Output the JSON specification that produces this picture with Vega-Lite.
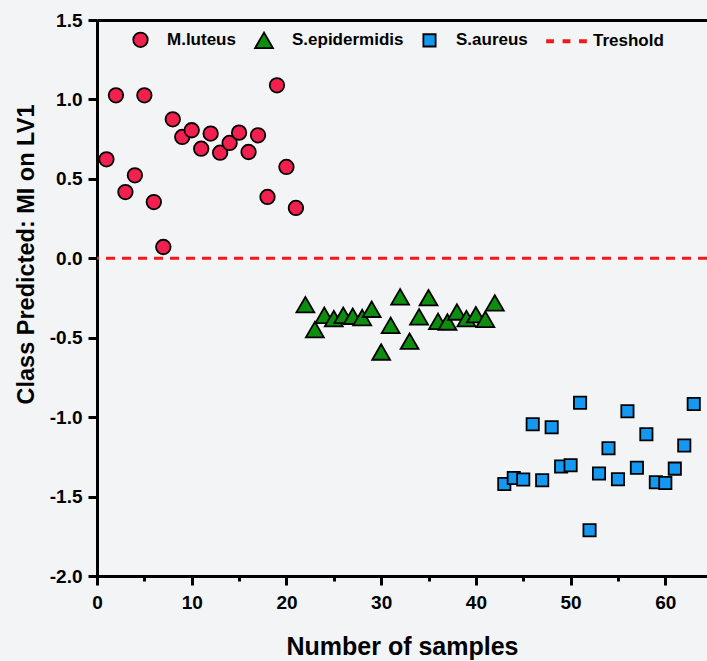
{
  "$schema": "https://vega.github.io/schema/vega-lite/v6.json",
  "width": 610,
  "height": 556,
  "autosize": "none",
  "padding": {"left": 97, "top": 20, "right": 0, "bottom": 85},
  "background": "#f3f4f6",
  "config": {"view": {"stroke": null}, "font": "Liberation Sans"},
  "layer": [
    {
      "data": {"values": [
        {"sample": 1, "value": 0.623, "class": "M.luteus"},
        {"sample": 2, "value": 1.026, "class": "M.luteus"},
        {"sample": 3, "value": 0.417, "class": "M.luteus"},
        {"sample": 4, "value": 0.522, "class": "M.luteus"},
        {"sample": 5, "value": 1.026, "class": "M.luteus"},
        {"sample": 6, "value": 0.354, "class": "M.luteus"},
        {"sample": 7, "value": 0.071, "class": "M.luteus"},
        {"sample": 8, "value": 0.875, "class": "M.luteus"},
        {"sample": 9, "value": 0.764, "class": "M.luteus"},
        {"sample": 10, "value": 0.806, "class": "M.luteus"},
        {"sample": 11, "value": 0.69, "class": "M.luteus"},
        {"sample": 12, "value": 0.785, "class": "M.luteus"},
        {"sample": 13, "value": 0.665, "class": "M.luteus"},
        {"sample": 14, "value": 0.726, "class": "M.luteus"},
        {"sample": 15, "value": 0.791, "class": "M.luteus"},
        {"sample": 16, "value": 0.669, "class": "M.luteus"},
        {"sample": 17, "value": 0.774, "class": "M.luteus"},
        {"sample": 18, "value": 0.386, "class": "M.luteus"},
        {"sample": 19, "value": 1.089, "class": "M.luteus"},
        {"sample": 20, "value": 0.575, "class": "M.luteus"},
        {"sample": 21, "value": 0.317, "class": "M.luteus"},
        {"sample": 22, "value": -0.292, "class": "S.epidermidis"},
        {"sample": 23, "value": -0.449, "class": "S.epidermidis"},
        {"sample": 24, "value": -0.359, "class": "S.epidermidis"},
        {"sample": 25, "value": -0.38, "class": "S.epidermidis"},
        {"sample": 26, "value": -0.359, "class": "S.epidermidis"},
        {"sample": 27, "value": -0.365, "class": "S.epidermidis"},
        {"sample": 28, "value": -0.373, "class": "S.epidermidis"},
        {"sample": 29, "value": -0.321, "class": "S.epidermidis"},
        {"sample": 30, "value": -0.59, "class": "S.epidermidis"},
        {"sample": 31, "value": -0.422, "class": "S.epidermidis"},
        {"sample": 32, "value": -0.243, "class": "S.epidermidis"},
        {"sample": 33, "value": -0.522, "class": "S.epidermidis"},
        {"sample": 34, "value": -0.369, "class": "S.epidermidis"},
        {"sample": 35, "value": -0.248, "class": "S.epidermidis"},
        {"sample": 36, "value": -0.397, "class": "S.epidermidis"},
        {"sample": 37, "value": -0.401, "class": "S.epidermidis"},
        {"sample": 38, "value": -0.338, "class": "S.epidermidis"},
        {"sample": 39, "value": -0.38, "class": "S.epidermidis"},
        {"sample": 40, "value": -0.355, "class": "S.epidermidis"},
        {"sample": 41, "value": -0.384, "class": "S.epidermidis"},
        {"sample": 42, "value": -0.281, "class": "S.epidermidis"},
        {"sample": 43, "value": -1.421, "class": "S.aureus"},
        {"sample": 44, "value": -1.383, "class": "S.aureus"},
        {"sample": 45, "value": -1.393, "class": "S.aureus"},
        {"sample": 46, "value": -1.045, "class": "S.aureus"},
        {"sample": 47, "value": -1.397, "class": "S.aureus"},
        {"sample": 48, "value": -1.064, "class": "S.aureus"},
        {"sample": 49, "value": -1.311, "class": "S.aureus"},
        {"sample": 50, "value": -1.303, "class": "S.aureus"},
        {"sample": 51, "value": -0.909, "class": "S.aureus"},
        {"sample": 52, "value": -1.712, "class": "S.aureus"},
        {"sample": 53, "value": -1.355, "class": "S.aureus"},
        {"sample": 54, "value": -1.196, "class": "S.aureus"},
        {"sample": 55, "value": -1.391, "class": "S.aureus"},
        {"sample": 56, "value": -0.963, "class": "S.aureus"},
        {"sample": 57, "value": -1.318, "class": "S.aureus"},
        {"sample": 58, "value": -1.108, "class": "S.aureus"},
        {"sample": 59, "value": -1.41, "class": "S.aureus"},
        {"sample": 60, "value": -1.414, "class": "S.aureus"},
        {"sample": 61, "value": -1.324, "class": "S.aureus"},
        {"sample": 62, "value": -1.179, "class": "S.aureus"},
        {"sample": 63, "value": -0.917, "class": "S.aureus"}
      ]},
      "mark": {"type": "point", "filled": true, "strokeWidth": 1.8, "opacity": 1},
      "encoding": {
        "x": {
          "field": "sample", "type": "quantitative",
          "scale": {"domain": [0, 64.4], "nice": false, "zero": false},
          "axis": {
            "values": [0, 5, 10, 15, 20, 25, 30, 35, 40, 45, 50, 55, 60],
            "title": "Number of samples",
            "titleFont": "Liberation Sans", "titleFontSize": 25, "titleFontWeight": "bold", "titleColor": "black",
            "titleBaseline": "alphabetic", "titleY": 78,
            "labelExpr": "datum.value % 10 === 0 ? datum.label : ''",
            "labelFont": "Liberation Sans", "labelFontSize": 19, "labelFontWeight": "bold", "labelColor": "black",
            "labelPadding": 8, "labelFlush": false, "labelOverlap": false,
            "domainColor": "black", "domainWidth": 3,
            "tickColor": "black", "tickWidth": 3,
            "tickSize": {"condition": {"test": "datum.value % 10 === 0", "value": 9}, "value": 5},
            "grid": false
          }
        },
        "y": {
          "field": "value", "type": "quantitative",
          "scale": {"domain": [-2, 1.5], "nice": false, "zero": false},
          "axis": {
            "values": [-2, -1.75, -1.5, -1.25, -1, -0.75, -0.5, -0.25, 0, 0.25, 0.5, 0.75, 1, 1.25, 1.5],
            "title": "Class Predicted: MI on LV1",
            "titleFont": "Liberation Sans", "titleFontSize": 23.5, "titleFontWeight": "bold", "titleColor": "black",
            "titleBaseline": "alphabetic", "titleX": -64, "titleY": 234,
            "labelExpr": "datum.value % 0.5 === 0 ? replace(format(datum.value, '.1f'), '−', '-') : ''",
            "labelFont": "Liberation Sans", "labelFontSize": 19, "labelFontWeight": "bold", "labelColor": "black",
            "labelPadding": 6, "labelFlush": false, "labelOverlap": false,
            "domainColor": "black", "domainWidth": 3,
            "tickColor": "black", "tickWidth": 3,
            "tickSize": {"condition": {"test": "datum.value % 0.5 === 0", "value": 9}, "value": 5},
            "grid": true, "gridColor": "black", "gridWidth": 3,
            "gridOpacity": {"condition": {"test": "datum.value === 1.5", "value": 1}, "value": 0}
          }
        },
        "fill": {
          "field": "class", "type": "nominal",
          "scale": {"domain": ["M.luteus", "S.epidermidis", "S.aureus", "Treshold"], "range": ["#F2204E", "#0E8E0E", "#1399F2", "#F01818"]},
          "legend": {"title": null, "orient": "none", "legendX": 35, "legendY": 10, "direction": "horizontal",
            "labelFont": "Liberation Sans", "labelFontSize": 17, "labelFontWeight": "bold", "labelColor": "black",
            "symbolStrokeWidth": 1.8, "labelOffset": 18, "columnPadding": 15, "padding": 0}
        },
        "stroke": {
          "field": "class", "type": "nominal",
          "scale": {"domain": ["M.luteus", "S.epidermidis", "S.aureus", "Treshold"], "range": ["black", "black", "black", "#F01818"]},
          "legend": {"title": null, "orient": "none", "legendX": 35, "legendY": 10, "direction": "horizontal",
            "labelFont": "Liberation Sans", "labelFontSize": 17, "labelFontWeight": "bold", "labelColor": "black",
            "symbolStrokeWidth": 1.8, "labelOffset": 18, "columnPadding": 15, "padding": 0}
        },
        "shape": {
          "field": "class", "type": "nominal",
          "scale": {"domain": ["M.luteus", "S.epidermidis", "S.aureus", "Treshold"], "range": ["circle", "triangle-up", "square", "M-2.75,-0.14H-1.9V0.14H-2.75Z M-0.425,-0.14H0.425V0.14H-0.425Z M1.9,-0.14H2.75V0.14H1.9Z"]},
          "legend": {"title": null, "orient": "none", "legendX": 35, "legendY": 10, "direction": "horizontal",
            "labelFont": "Liberation Sans", "labelFontSize": 17, "labelFontWeight": "bold", "labelColor": "black",
            "symbolStrokeWidth": 1.8, "labelOffset": 18, "columnPadding": 15, "padding": 0}
        },
        "size": {
          "field": "class", "type": "nominal",
          "scale": {"type": "ordinal", "domain": ["M.luteus", "S.epidermidis", "S.aureus", "Treshold"], "range": [210, 320, 150, 200]},
          "legend": {"title": null, "orient": "none", "legendX": 35, "legendY": 10, "direction": "horizontal",
            "labelFont": "Liberation Sans", "labelFontSize": 17, "labelFontWeight": "bold", "labelColor": "black",
            "symbolStrokeWidth": 1.8, "labelOffset": 18, "columnPadding": 15, "padding": 0}
        }
      }
    },
    {
      "data": {"values": [{"threshold": 0}]},
      "mark": {"type": "rule", "color": "#F01818", "strokeWidth": 3, "strokeDash": [9, 7]},
      "encoding": {"y": {"field": "threshold", "type": "quantitative"}}
    }
  ]
}
